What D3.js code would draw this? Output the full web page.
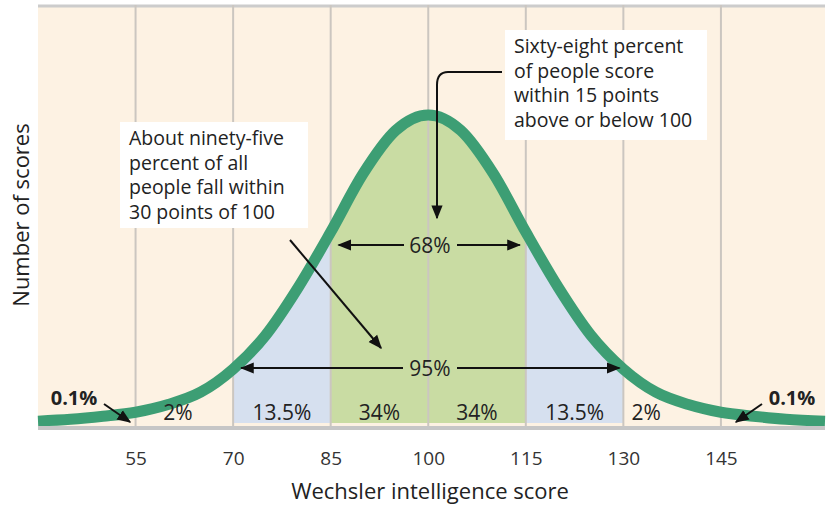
<!DOCTYPE html>
<html><head><meta charset="utf-8">
<script src="https://cdn.jsdelivr.net/npm/d3@7"></script>
<style>body{margin:0;background:#fff}text{font-family:"Open Sans",sans-serif}</style>
</head><body><svg id="c" width="831" height="507"></svg>
<script>
var scores = [40, 45, 50, 55, 60, 65, 70, 75, 80, 85, 90, 95, 100, 105, 110, 115, 120, 125, 130, 135, 140, 145, 150, 155, 161]
var density = [0.006, 0.012, 0.022, 0.035, 0.06, 0.10, 0.175, 0.285, 0.44, 0.62, 0.81, 0.95, 1.0, 0.95, 0.81, 0.62, 0.44, 0.285, 0.175, 0.10, 0.06, 0.035, 0.022, 0.012, 0.006]
var ticks = [55, 70, 85, 100, 115, 130, 145]
var bands = [{from: 70, to: 85, c: '#d6e0ef'}, {from: 85, to: 115, c: '#c9dca3'}, {from: 115, to: 130, c: '#d6e0ef'}]
var pctLabels = [['2%', 61.5], ['13.5%', 77.5], ['34%', 92.5], ['34%', 107.5], ['13.5%', 122.5], ['2%', 133.5]]

var svg = d3.select('#c')
var x = d3.scaleLinear().domain([40, 161]).range([38, 825])
var y = d3.scaleLinear().domain([0, 1]).range([423, 115])
var pts = scores.map(function (s, i) { return [s, density[i]] })

svg.append('rect').attr('x', 38).attr('y', 5).attr('width', 787).attr('height', 423).attr('fill', '#fdf2e3')
svg.append('line').attr('x1', 38).attr('x2', 825).attr('y1', 6).attr('y2', 6).attr('stroke', '#ccc').attr('stroke-width', 3)

var area = d3.area().x(function (d) { return x(d[0]) }).y0(y(0)).y1(function (d) { return y(d[1]) }).curve(d3.curveMonotoneX)
svg.append('clipPath').attr('id', 'under').append('path').attr('d', area(pts))
bands.forEach(function (b) {
  svg.append('rect').attr('clip-path', 'url(#under)')
    .attr('x', x(b.from)).attr('width', x(b.to) - x(b.from)).attr('y', 5).attr('height', 420).attr('fill', b.c)
})
ticks.forEach(function (t) {
  svg.append('line').attr('x1', x(t)).attr('x2', x(t)).attr('y1', 5).attr('y2', 426).attr('stroke', '#cbc6c0').attr('stroke-width', 2)
})
svg.append('path').attr('d', d3.line().x(function (d) { return x(d[0]) }).y(function (d) { return y(d[1]) }).curve(d3.curveMonotoneX)(pts))
  .attr('fill', 'none').attr('stroke', '#3d9e74').attr('stroke-width', 11)
svg.append('line').attr('x1', 38).attr('x2', 825).attr('y1', 428).attr('y2', 428).attr('stroke', '#c6c6c6').attr('stroke-width', 4)

var xAxis = svg.append('g').attr('transform', 'translate(0,428)')
  .call(d3.axisBottom(x).tickValues(ticks).tickSize(0).tickPadding(24))
xAxis.select('.domain').remove()
xAxis.selectAll('text').attr('font-size', 19).attr('fill', '#333').style('font-family', '"Open Sans",sans-serif')

svg.append('text').attr('x', 430).attr('y', 499).attr('text-anchor', 'middle').attr('font-size', 22).attr('fill', '#222').text('Wechsler intelligence score')
svg.append('text').attr('transform', 'translate(29,215) rotate(-90)').attr('text-anchor', 'middle').attr('font-size', 22).attr('fill', '#222').text('Number of scores')

var defs = svg.append('defs')
defs.append('marker').attr('id', 'ah').attr('viewBox', '0 0 10 10').attr('refX', 9).attr('refY', 5)
  .attr('markerWidth', 7).attr('markerHeight', 7).attr('orient', 'auto-start-reverse')
  .append('path').attr('d', 'M0,1L10,5L0,9z').attr('fill', '#111')

function arrow(x1, y1, x2, y2) {
  svg.append('line').attr('x1', x1).attr('y1', y1).attr('x2', x2).attr('y2', y2)
    .attr('stroke', '#111').attr('stroke-width', 2).attr('marker-end', 'url(#ah)')
}
arrow(404, 245, x(85) + 8, 245); arrow(457, 245, x(115) - 6, 245)
arrow(403, 368, x(70) + 8, 368); arrow(457, 368, x(130) - 4, 368)
svg.append('text').attr('x', 430).attr('y', 253).attr('text-anchor', 'middle').attr('font-size', 21).attr('fill', '#222').text('68%')
svg.append('text').attr('x', 430).attr('y', 376).attr('text-anchor', 'middle').attr('font-size', 21).attr('fill', '#222').text('95%')

pctLabels.forEach(function (p) {
  svg.append('text').attr('x', x(p[1])).attr('y', 420).attr('text-anchor', 'middle').attr('font-size', 21).attr('fill', '#222').text(p[0])
})
svg.append('text').attr('x', 74).attr('y', 405).attr('text-anchor', 'middle').attr('font-size', 20).attr('font-weight', 'bold').attr('fill', '#222').text('0.1%')
svg.append('text').attr('x', 792).attr('y', 405).attr('text-anchor', 'middle').attr('font-size', 20).attr('font-weight', 'bold').attr('fill', '#222').text('0.1%')
arrow(104, 404, 130, 422); arrow(762, 404, 736, 422)

function box(bx, by, w, h, lines) {
  svg.append('rect').attr('x', bx).attr('y', by).attr('width', w).attr('height', h).attr('fill', '#fff')
  lines.forEach(function (l, i) {
    svg.append('text').attr('x', bx + 9).attr('y', by + 23 + i * 24.5).attr('font-size', 19.5).attr('fill', '#222').text(l)
  })
}
box(120, 122, 188, 106, ['About ninety-five', 'percent of all', 'people fall within', '30 points of 100'])
box(505, 30, 202, 110, ['Sixty-eight percent', 'of people score', 'within 15 points', 'above or below 100'])
arrow(290, 240, 381, 348)
svg.append('path').attr('d', 'M502,72 L448,72 Q437,72 437,85 L437,218').attr('fill', 'none').attr('stroke', '#111').attr('stroke-width', 2).attr('marker-end', 'url(#ah)')
</script></body></html>
